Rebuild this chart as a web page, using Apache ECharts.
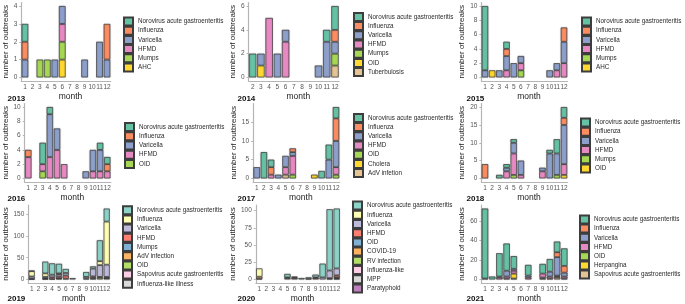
<!DOCTYPE html>
<html>
<head>
<meta charset="utf-8">
<script src="https://cdn.jsdelivr.net/npm/echarts@6/dist/echarts.min.js"></script>
<style>
  html, body { margin: 0; padding: 0; background: #fff; }
  #chart { width: 685px; height: 304px; }
</style>
</head>
<body>
<div id="chart"></div>
<script>
// palettes (ColorBrewer Set2 / Set3)
const set2 = ['#66C2A5', '#FC8D62', '#8DA0CB', '#E78AC3', '#A6D854', '#FFD92F', '#E5C494', '#B3B3B3'];
const set3 = ['#8DD3C7', '#FFFFB3', '#BEBADA', '#FB8072', '#80B1D3', '#FDB462', '#B3DE69', '#FCCDE5', '#D9D9D9', '#BC80BD'];

const allMonths = ['1', '2', '3', '4', '5', '6', '7', '8', '9', '10', '11', '12'];
const months2014 = ['2', '3', '4', '5', '6', '7', '8', '9', '10', '11', '12'];

// ---- 2013
const diseases2013 = ['Norovirus acute gastroenteritis', 'Influenza', 'Varicella', 'HFMD', 'Mumps', 'AHC'];
const counts2013 = [
    [1, 0, 0, 0, 0, 0, 0, 0, 0, 0, 0, 0],
    [1, 0, 0, 0, 0, 0, 0, 0, 0, 0, 0, 2],
    [1, 0, 0, 0, 1, 1, 0, 0, 1, 0, 2, 1],
    [0, 0, 0, 0, 0, 1, 0, 0, 0, 0, 0, 0],
    [0, 0, 1, 1, 0, 1, 0, 0, 0, 0, 0, 0],
    [0, 0, 0, 0, 0, 1, 0, 0, 0, 0, 0, 0]
];
const ticks2013 = [0, 1, 2, 3, 4];

// ---- 2014 (months 2..12)
const diseases2014 = ['Norovirus acute gastroenteritis', 'Influenza', 'Varicella', 'HFMD', 'Mumps', 'OID', 'Tuberbulosis'];
const counts2014 = [
    [2, 0, 0, 0, 0, 0, 0, 0, 0, 1, 2],
    [0, 0, 0, 0, 0, 0, 0, 0, 0, 0, 1],
    [0, 1, 0, 2, 1, 0, 0, 0, 1, 3, 1],
    [0, 0, 5, 0, 3, 0, 0, 0, 0, 0, 0],
    [0, 0, 0, 0, 0, 0, 0, 0, 0, 0, 1],
    [0, 1, 0, 0, 0, 0, 0, 0, 0, 0, 0],
    [0, 0, 0, 0, 0, 0, 0, 0, 0, 0, 1]
];
const ticks2014 = [0, 2, 4, 6];

// ---- 2015
const diseases2015 = ['Norovirus acute gastroenteritis', 'Influenza', 'Varicella', 'HFMD', 'Mumps', 'AHC'];
const counts2015 = [
    [9, 0, 0, 1, 0, 0, 0, 0, 0, 0, 0, 0],
    [0, 0, 0, 1, 0, 0, 0, 0, 0, 0, 0, 2],
    [1, 0, 1, 2, 2, 1, 0, 0, 0, 1, 1, 3],
    [0, 0, 0, 1, 0, 1, 0, 0, 0, 0, 1, 2],
    [0, 0, 0, 0, 0, 1, 0, 0, 0, 0, 0, 0],
    [0, 1, 0, 0, 0, 0, 0, 0, 0, 0, 0, 0]
];
const ticks2015 = [0, 2, 4, 6, 8, 10];

// ---- 2016
const diseases2016 = ['Norovirus acute gastroenteritis', 'Influenza', 'Varicella', 'HFMD', 'OID'];
const counts2016 = [
    [0, 0, 3, 1, 0, 0, 0, 0, 0, 0, 1, 1],
    [1, 0, 0, 0, 0, 0, 0, 0, 0, 0, 0, 1],
    [0, 0, 0, 6, 3, 0, 0, 0, 1, 3, 3, 0],
    [3, 0, 1, 3, 4, 2, 0, 0, 0, 1, 1, 1],
    [0, 0, 1, 0, 0, 0, 0, 0, 0, 0, 0, 0]
];
const ticks2016 = [0, 2, 4, 6, 8, 10];

// ---- 2017
const diseases2017 = ['Norovirus acute gastroenteritis', 'Influenza', 'Varicella', 'HFMD', 'OID', 'Cholera', 'AdV infetion'];
const counts2017 = [
    [0, 7, 2, 0, 0, 0, 0, 0, 0, 2, 4, 3],
    [0, 0, 2, 0, 0, 1, 0, 0, 0, 0, 0, 6],
    [3, 0, 0, 1, 3, 1, 0, 0, 0, 0, 5, 7],
    [0, 0, 1, 0, 2, 5, 0, 0, 0, 0, 0, 2],
    [0, 0, 0, 0, 0, 1, 0, 0, 0, 0, 0, 1],
    [0, 0, 0, 0, 0, 0, 0, 0, 1, 0, 0, 0],
    [0, 0, 0, 0, 1, 0, 0, 0, 0, 0, 0, 0]
];
const ticks2017 = [0, 5, 10, 15];

// ---- 2018
const diseases2018 = ['Norovirus acute gastroenteritis', 'Influenza', 'Varicella', 'HFMD', 'Mumps', 'OID'];
const counts2018 = [
    [0, 0, 1, 1, 1, 0, 0, 0, 0, 1, 4, 3],
    [4, 0, 0, 0, 0, 0, 0, 0, 0, 0, 0, 2],
    [0, 0, 0, 1, 3, 4, 0, 0, 1, 7, 6, 11],
    [0, 0, 0, 2, 6, 1, 0, 0, 2, 0, 0, 3],
    [0, 0, 0, 0, 1, 0, 0, 0, 0, 0, 1, 0],
    [0, 0, 0, 0, 0, 0, 0, 0, 0, 0, 0, 1]
];
const ticks2018 = [0, 5, 10, 15, 20];

// ---- 2019
const diseases2019 = ['Norovirus acute gastroenteritis', 'Influenza', 'Varicella', 'HFMD', 'Mumps', 'AdV infection', 'OID',
    'Sapovirus acute gastroenteritis', 'Influenza-like illness'];
const counts2019 = [
    [1, 0, 27, 26, 22, 9, 0, 0, 11, 5, 48, 30],
    [12, 0, 8, 0, 2, 0, 0, 0, 0, 0, 9, 99],
    [5, 0, 3, 6, 5, 6, 3, 0, 4, 18, 27, 28],
    [1, 0, 2, 4, 4, 7, 0, 0, 2, 3, 2, 2],
    [0, 0, 0, 1, 1, 0, 0, 0, 0, 2, 0, 1],
    [0, 0, 1, 0, 0, 0, 0, 0, 0, 0, 0, 0],
    [0, 0, 0, 0, 0, 0, 0, 0, 0, 0, 4, 0],
    [0, 0, 0, 0, 2, 2, 0, 0, 0, 0, 0, 0],
    [1, 0, 0, 0, 0, 0, 0, 0, 0, 2, 0, 3]
];
const ticks2019 = [0, 50, 100, 150];

// ---- 2020
const diseases2020 = ['Norovirus acute gastroenteritis', 'Influenza', 'Varicella', 'HFMD', 'OID', 'COVID-19', 'RV infection',
    'Influenza-like', 'MPP', 'Paratyphoid'];
const counts2020 = [
    [0, 0, 0, 0, 5, 0, 2, 2, 4, 20, 89, 87],
    [12, 0, 0, 0, 0, 0, 0, 0, 0, 0, 0, 0],
    [0, 0, 0, 0, 1, 1, 0, 0, 1, 3, 11, 10],
    [0, 0, 0, 0, 0, 0, 0, 1, 2, 0, 0, 3],
    [0, 0, 0, 0, 0, 1, 0, 0, 0, 0, 0, 0],
    [3, 0, 0, 0, 0, 0, 0, 0, 0, 0, 0, 0],
    [0, 0, 0, 0, 0, 0, 0, 0, 0, 0, 1, 0],
    [0, 0, 0, 0, 0, 0, 0, 0, 0, 0, 0, 1],
    [1, 0, 0, 0, 2, 2, 0, 0, 0, 0, 1, 1],
    [0, 0, 0, 0, 0, 0, 0, 0, 0, 0, 0, 1]
];
const ticks2020 = [0, 25, 50, 75, 100];

// ---- 2021
const diseases2021 = ['Norovirus acute gastroenteritis', 'Influenza', 'Varicella', 'HFMD', 'OID', 'Herpangina',
    'Sapovirus acute gastroenteritis'];
const counts2021 = [
    [72, 3, 24, 28, 13, 0, 11, 0, 10, 13, 11, 18],
    [0, 0, 0, 0, 0, 0, 0, 0, 0, 0, 5, 7],
    [1, 0, 1, 6, 2, 0, 2, 0, 0, 5, 19, 4],
    [0, 0, 2, 2, 3, 0, 2, 0, 4, 2, 1, 2],
    [0, 0, 0, 0, 0, 0, 0, 0, 1, 0, 1, 0],
    [0, 0, 0, 0, 5, 0, 0, 0, 0, 0, 0, 0],
    [0, 0, 0, 1, 1, 0, 0, 0, 1, 1, 2, 1]
];
const ticks2021 = [0, 20, 40, 60];

const panels = [
    { year: '2013', months: allMonths, names: diseases2013, counts: counts2013, ticks: ticks2013, colors: set2 },
    { year: '2014', months: months2014, names: diseases2014, counts: counts2014, ticks: ticks2014, colors: set2 },
    { year: '2015', months: allMonths, names: diseases2015, counts: counts2015, ticks: ticks2015, colors: set2 },
    { year: '2016', months: allMonths, names: diseases2016, counts: counts2016, ticks: ticks2016, colors: set2 },
    { year: '2017', months: allMonths, names: diseases2017, counts: counts2017, ticks: ticks2017, colors: set2 },
    { year: '2018', months: allMonths, names: diseases2018, counts: counts2018, ticks: ticks2018, colors: set2 },
    { year: '2019', months: allMonths, names: diseases2019, counts: counts2019, ticks: ticks2019, colors: set3 },
    { year: '2020', months: allMonths, names: diseases2020, counts: counts2020, ticks: ticks2020, colors: set3 },
    { year: '2021', months: allMonths, names: diseases2021, counts: counts2021, ticks: ticks2021, colors: set2 }
];

// layout: centre of first / last bar, legend swatch x
const layout = [
    { c1: 25, cN: 107, legendX: 123 },
    { c1: 252.7, cN: 335, legendX: 353 },
    { c1: 485, cN: 564, legendX: 581 },
    { c1: 28.3, cN: 107.3, legendX: 124 },
    { c1: 256.7, cN: 336, legendX: 353 },
    { c1: 485, cN: 564, legendX: 580 },
    { c1: 31.7, cN: 106.7, legendX: 122 },
    { c1: 259.3, cN: 336.7, legendX: 352 },
    { c1: 485, cN: 564.3, legendX: 579 }
];
const rows = [
    { top: 2.5, bottom: 81, legendMid: 44, tagY: 99.5 },
    { top: 103.5, bottom: 182, legendMid: 145, tagY: 199.5 },
    { top: 205, bottom: 283, legendMid: 246.5, tagY: 299.5 }
];
const colX = [5, 235, 464];
const font = '"Liberation Sans", Arial, sans-serif';
const legendPitch = 9.2;
const legendGap = -0.8;   // legend rows render ~10px tall, pull them together

const grid = [], xAxis = [], yAxis = [], series = [], legend = [], title = [];

panels.forEach((p, i) => {
    const L = layout[i];
    const row = rows[Math.floor(i / 3)];
    const col = i % 3;
    const n = p.months.length;
    const band = (L.cN - L.c1) / (n - 1);
    const left = L.c1 - band / 2;
    const totals = p.months.map((_, m) => p.counts.reduce((s, arr) => s + arr[m], 0));
    const top = Math.max(...totals);

    grid.push({ left: left, top: row.top, width: n * band, height: row.bottom - row.top });
    xAxis.push({
        type: 'category', gridIndex: i, data: p.months,
        axisLine: { onZero: false, lineStyle: { color: '#b5b5b5', width: 1.2 } },
        axisTick: { alignWithLabel: true, length: 2, lineStyle: { color: '#b5b5b5' } },
        axisLabel: { interval: 0, fontSize: 6.5, color: '#555', margin: 3, fontFamily: font },
        name: 'month', nameLocation: 'middle', nameGap: 9,
        nameTextStyle: { fontSize: 8.5, color: '#222', fontFamily: font, padding: [0, 0, 0, 9] }
    });
    yAxis.push({
        type: 'value', gridIndex: i, min: -0.05 * top, max: 1.05 * top,
        splitLine: { show: false },
        axisLine: { show: true, lineStyle: { color: '#b5b5b5', width: 1.2 } },
        axisTick: { show: true, length: 2, customValues: p.ticks, lineStyle: { color: '#b5b5b5' } },
        axisLabel: { customValues: p.ticks, fontSize: 6.5, color: '#555', margin: 4, fontFamily: font },
        name: 'number of outbreaks', nameLocation: 'middle', nameGap: left - colX[col] - 4.5,
        nameTextStyle: { fontSize: 8, color: '#222', fontFamily: font }
    });

    // ggplot stacks the first level on top, so add series in reverse
    for (let k = p.names.length - 1; k >= 0; k--) {
        series.push({
            type: 'bar', name: p.year + '|' + p.names[k], stack: 'y' + p.year,
            xAxisIndex: i, yAxisIndex: i, barWidth: '90%',
            itemStyle: {
                color: p.colors[k], borderColor: '#3d3d3d', borderWidth: 0.7,
                shadowColor: 'rgba(0,0,0,0.3)', shadowBlur: 1.5
            },
            data: p.counts[k].map(v => v === 0 ? '-' : v)
        });
    }

    const nItems = p.names.length;
    legend.push({
        orient: 'vertical', left: L.legendX,
        top: row.legendMid - (nItems * legendPitch - 1.2) / 2 - 0.5,
        padding: 0, itemWidth: 9, itemHeight: 8, itemGap: legendGap, selectedMode: false, icon: 'rect',
        data: p.names.map(d => p.year + '|' + d),
        formatter: s => s.split('|')[1],
        textStyle: { fontSize: 6.3, color: '#2a2a2a', lineHeight: 8, fontFamily: font }
    });

    title.push({
        text: p.year, left: colX[col] + 2.5, top: row.tagY - 5, padding: 0,
        textStyle: { fontSize: 8, fontWeight: 'bold', color: '#111', fontFamily: font }
    });
});

const chart = echarts.init(document.getElementById('chart'));
chart.setOption({
    animation: false,
    backgroundColor: '#fff',
    title: title,
    legend: legend,
    grid: grid,
    xAxis: xAxis,
    yAxis: yAxis,
    series: series
});
</script>
</body>
</html>
